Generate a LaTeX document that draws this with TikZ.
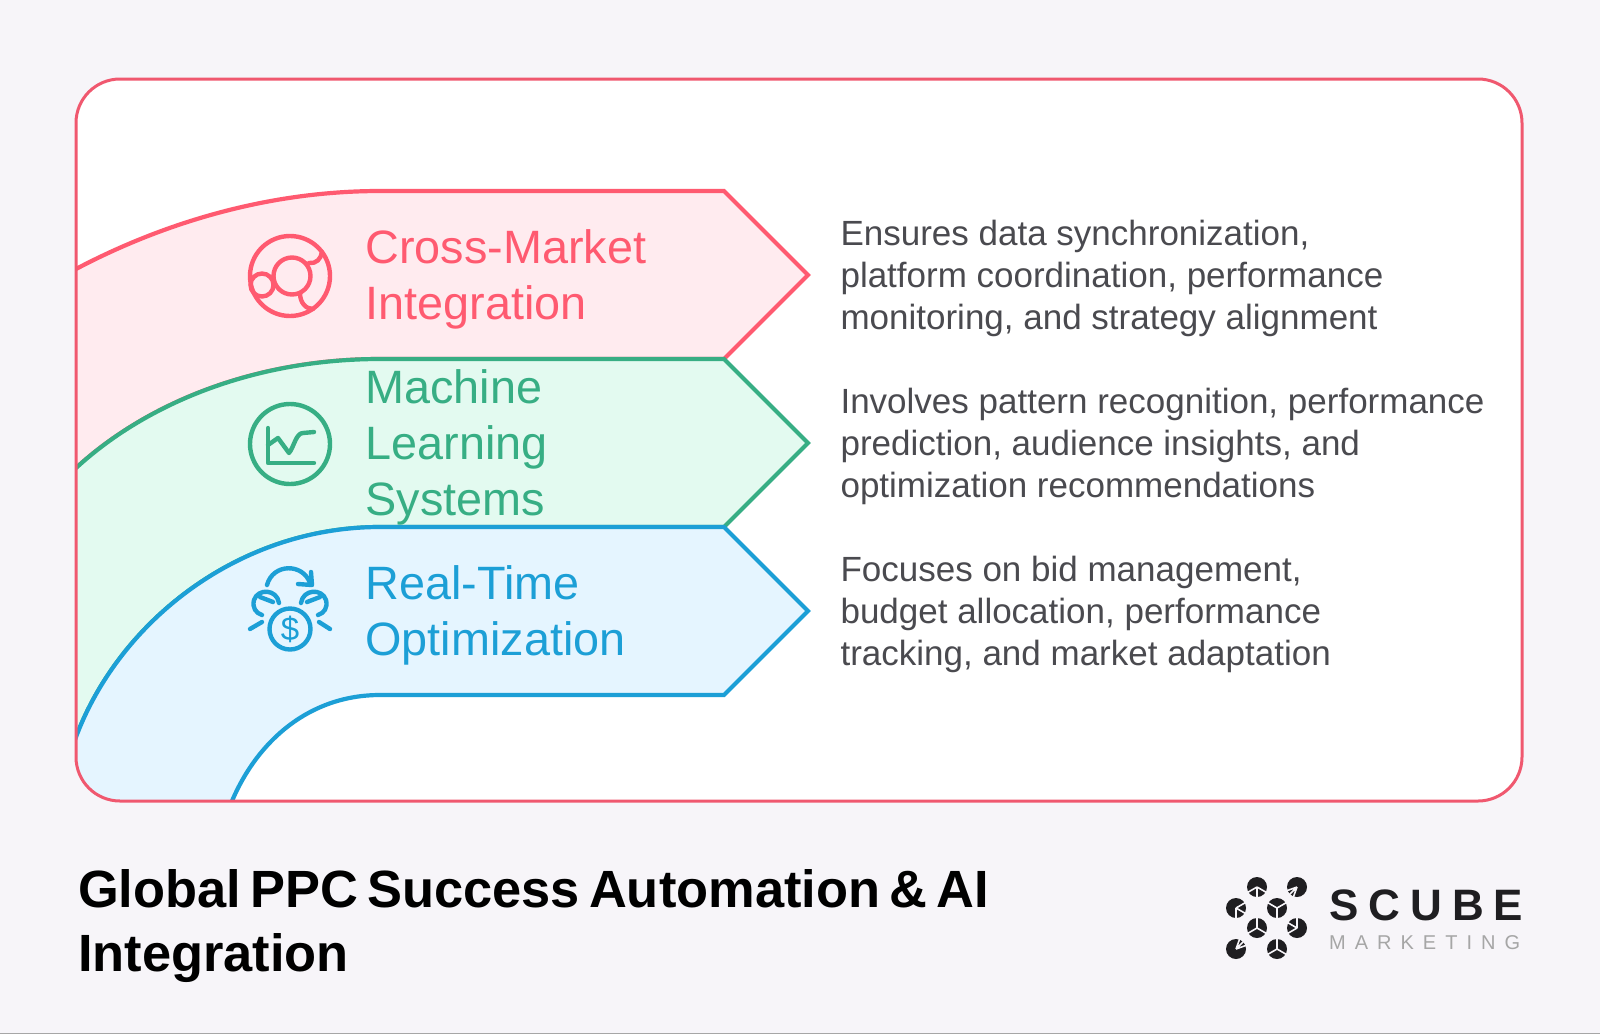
\documentclass[tikz,border=0pt]{standalone}
\usepackage{fontspec}
\setmainfont{Liberation Sans}
\newfontfamily\titlefont[WordSpace=0.63]{Liberation Sans}
\definecolor{bgc}{HTML}{F7F5F9}
\definecolor{framec}{HTML}{F0586F}
\definecolor{pinkl}{HTML}{FF5A70}\definecolor{pinkf}{HTML}{FFEBEF}
\definecolor{greenl}{HTML}{37AE84}\definecolor{greenf}{HTML}{E3FAF0}
\definecolor{bluel}{HTML}{1C9FD6}\definecolor{bluef}{HTML}{E5F5FF}
\definecolor{txt}{HTML}{4A4A4F}
\definecolor{logo}{HTML}{1F1E21}
\tikzset{
 band/.style={line width=4.2pt,line join=miter},
 lab/.style={anchor=west,align=left,font=\fontsize{46.8}{56}\selectfont},
 desc/.style={anchor=west,align=left,text=txt,font=\fontsize{35}{42}\selectfont},
 icon/.style={line width=4.4pt,line cap=round,line join=round},
 cut/.style={draw=bgc,line width=1.6pt},
}
\newcommand{\logodot}[5]{% x y a1 a2 a3
 \fill[logo] (#1,#2) circle[radius=10];
 \draw[cut] (#1,#2) -- ++(#3:11) (#1,#2) -- ++(#4:11) (#1,#2) -- ++(#5:11);
}
\begin{document}
\begin{tikzpicture}[x=1pt,y=-1pt]
\useasboundingbox (0,0) rectangle (1600,1034);
\fill[bgc] (0,0) rectangle (1600,1034);
\fill[black!35] (0,1033) rectangle (1600,1034);
\fill[white,rounded corners=44] (76,79) rectangle (1522,801);
\begin{scope}
\clip[rounded corners=44] (76,79) rectangle (1522,801);
\filldraw[band,draw=pinkl,fill=pinkf] (40,287) -- (76,269) .. controls (165,222) and (270,191) .. (380,191) -- (724,191) -- (808,275) -- (724,359) -- (380,359) .. controls (260,359) and (150,400) .. (76,468) -- (40,501) -- cycle;
\filldraw[band,draw=greenl,fill=greenf] (40,501) -- (76,468) .. controls (150,400) and (260,359) .. (380,359) -- (724,359) -- (808,443) -- (724,527) -- (380,527) .. controls (240,527) and (120,620) .. (76,737) -- (50,810) -- (40,810) -- cycle;
\filldraw[band,draw=bluel,fill=bluef] (50,810) -- (76,737) .. controls (120,620) and (240,527) .. (380,527) -- (724,527) -- (808,611) -- (724,695) -- (380,695) .. controls (310,695) and (258,740) .. (232,801) -- (225,818) -- (50,818) -- cycle;
\end{scope}
\draw[framec,line width=3pt,rounded corners=44] (76,79) rectangle (1522,801);
% icon 1
\begin{scope}[icon,pinkl]
\draw (290,276) circle[radius=40];
\draw (292,276) circle[radius=18.5];
\draw (262,285) circle[radius=11.5];
\draw (309,263) .. controls (316,264) and (321,259) .. (322,252);
\draw (300,293) .. controls (300,303) and (306,309) .. (313,309);
\end{scope}
% icon 2
\begin{scope}[icon,greenl]
\draw (290,444) circle[radius=40];
\draw (268,428) -- (268,463) -- (314,463);
\draw (268,445) -- (278,438) -- (289,453) .. controls (294,447) and (296,433) .. (303,433) -- (314,432);
\end{scope}
% icon 3
\begin{scope}[icon,bluel]
\draw (290,629) circle[radius=20.5];
\node[text=bluel,font=\fontsize{33}{33}\selectfont,inner sep=0pt] (dollar) at (290,629) {\$};
\draw (267,585) .. controls (273,563) and (303,563) .. (310,583);
\draw (311,572) -- (312,585) -- (298,584);
\draw (279,603) .. controls (277,589) and (258,588) .. (254,600) .. controls (252,608) and (256,613) .. (262,615);
\draw (260,597) -- (273,602);
\draw (301,603) .. controls (303,589) and (322,588) .. (326,600) .. controls (328,608) and (324,613) .. (318,615);
\draw (320,597) -- (307,602);
\draw (250,629) -- (262,622);
\draw (330,629) -- (319,622);
\end{scope}
% labels
\node[lab,text=pinkl] (l1) at (362,279) {Cross-Market\\Integration};
\node[lab,text=greenl] (l2) at (362,447) {Machine\\Learning\\Systems};
\node[lab,text=bluel] (l3) at (362,615) {Real-Time\\Optimization};
% descriptions
\node[desc] (d1) at (837,278) {Ensures data synchronization,\\platform coordination, performance\\monitoring, and strategy alignment};
\node[desc] (d2) at (837,446) {Involves pattern recognition, performance\\prediction, audience insights, and\\optimization recommendations};
\node[desc] (d3) at (837,614) {Focuses on bid management,\\budget allocation, performance\\tracking, and market adaptation};
% title
\node[anchor=west,align=left,font=\titlefont\bfseries\fontsize{52.4}{64}\selectfont,text=black,inner sep=0pt] (title) at (78,926.5) {Global PPC Success Automation \& AI\\Integration};
% logo
\logodot{1257}{887}{30}{150}{90}
\logodot{1297}{887}{135}{110}{160}
\logodot{1236}{908}{-30}{30}{90}
\logodot{1277}{908}{-30}{-150}{90}
\logodot{1257}{928}{-90}{30}{150}
\logodot{1297}{928}{-90}{150}{-150}
\logodot{1236}{949}{-45}{-20}{-70}
\logodot{1277}{949}{-90}{150}{30}
\node[anchor=west,inner sep=0pt,font=\bfseries\fontsize{44}{44}\selectfont,text=logo] (scube) at (1329,905) {S\hspace{10pt}C\hspace{10pt}U\hspace{10pt}B\hspace{10pt}E};
\node[anchor=west,inner sep=0pt,font=\fontsize{20}{20}\selectfont,text=gray!70] (mkt) at (1329,943) {M\hspace{9pt}A\hspace{9pt}R\hspace{9pt}K\hspace{9pt}E\hspace{9pt}T\hspace{9pt}I\hspace{9pt}N\hspace{9pt}G};
\end{tikzpicture}
\end{document}
